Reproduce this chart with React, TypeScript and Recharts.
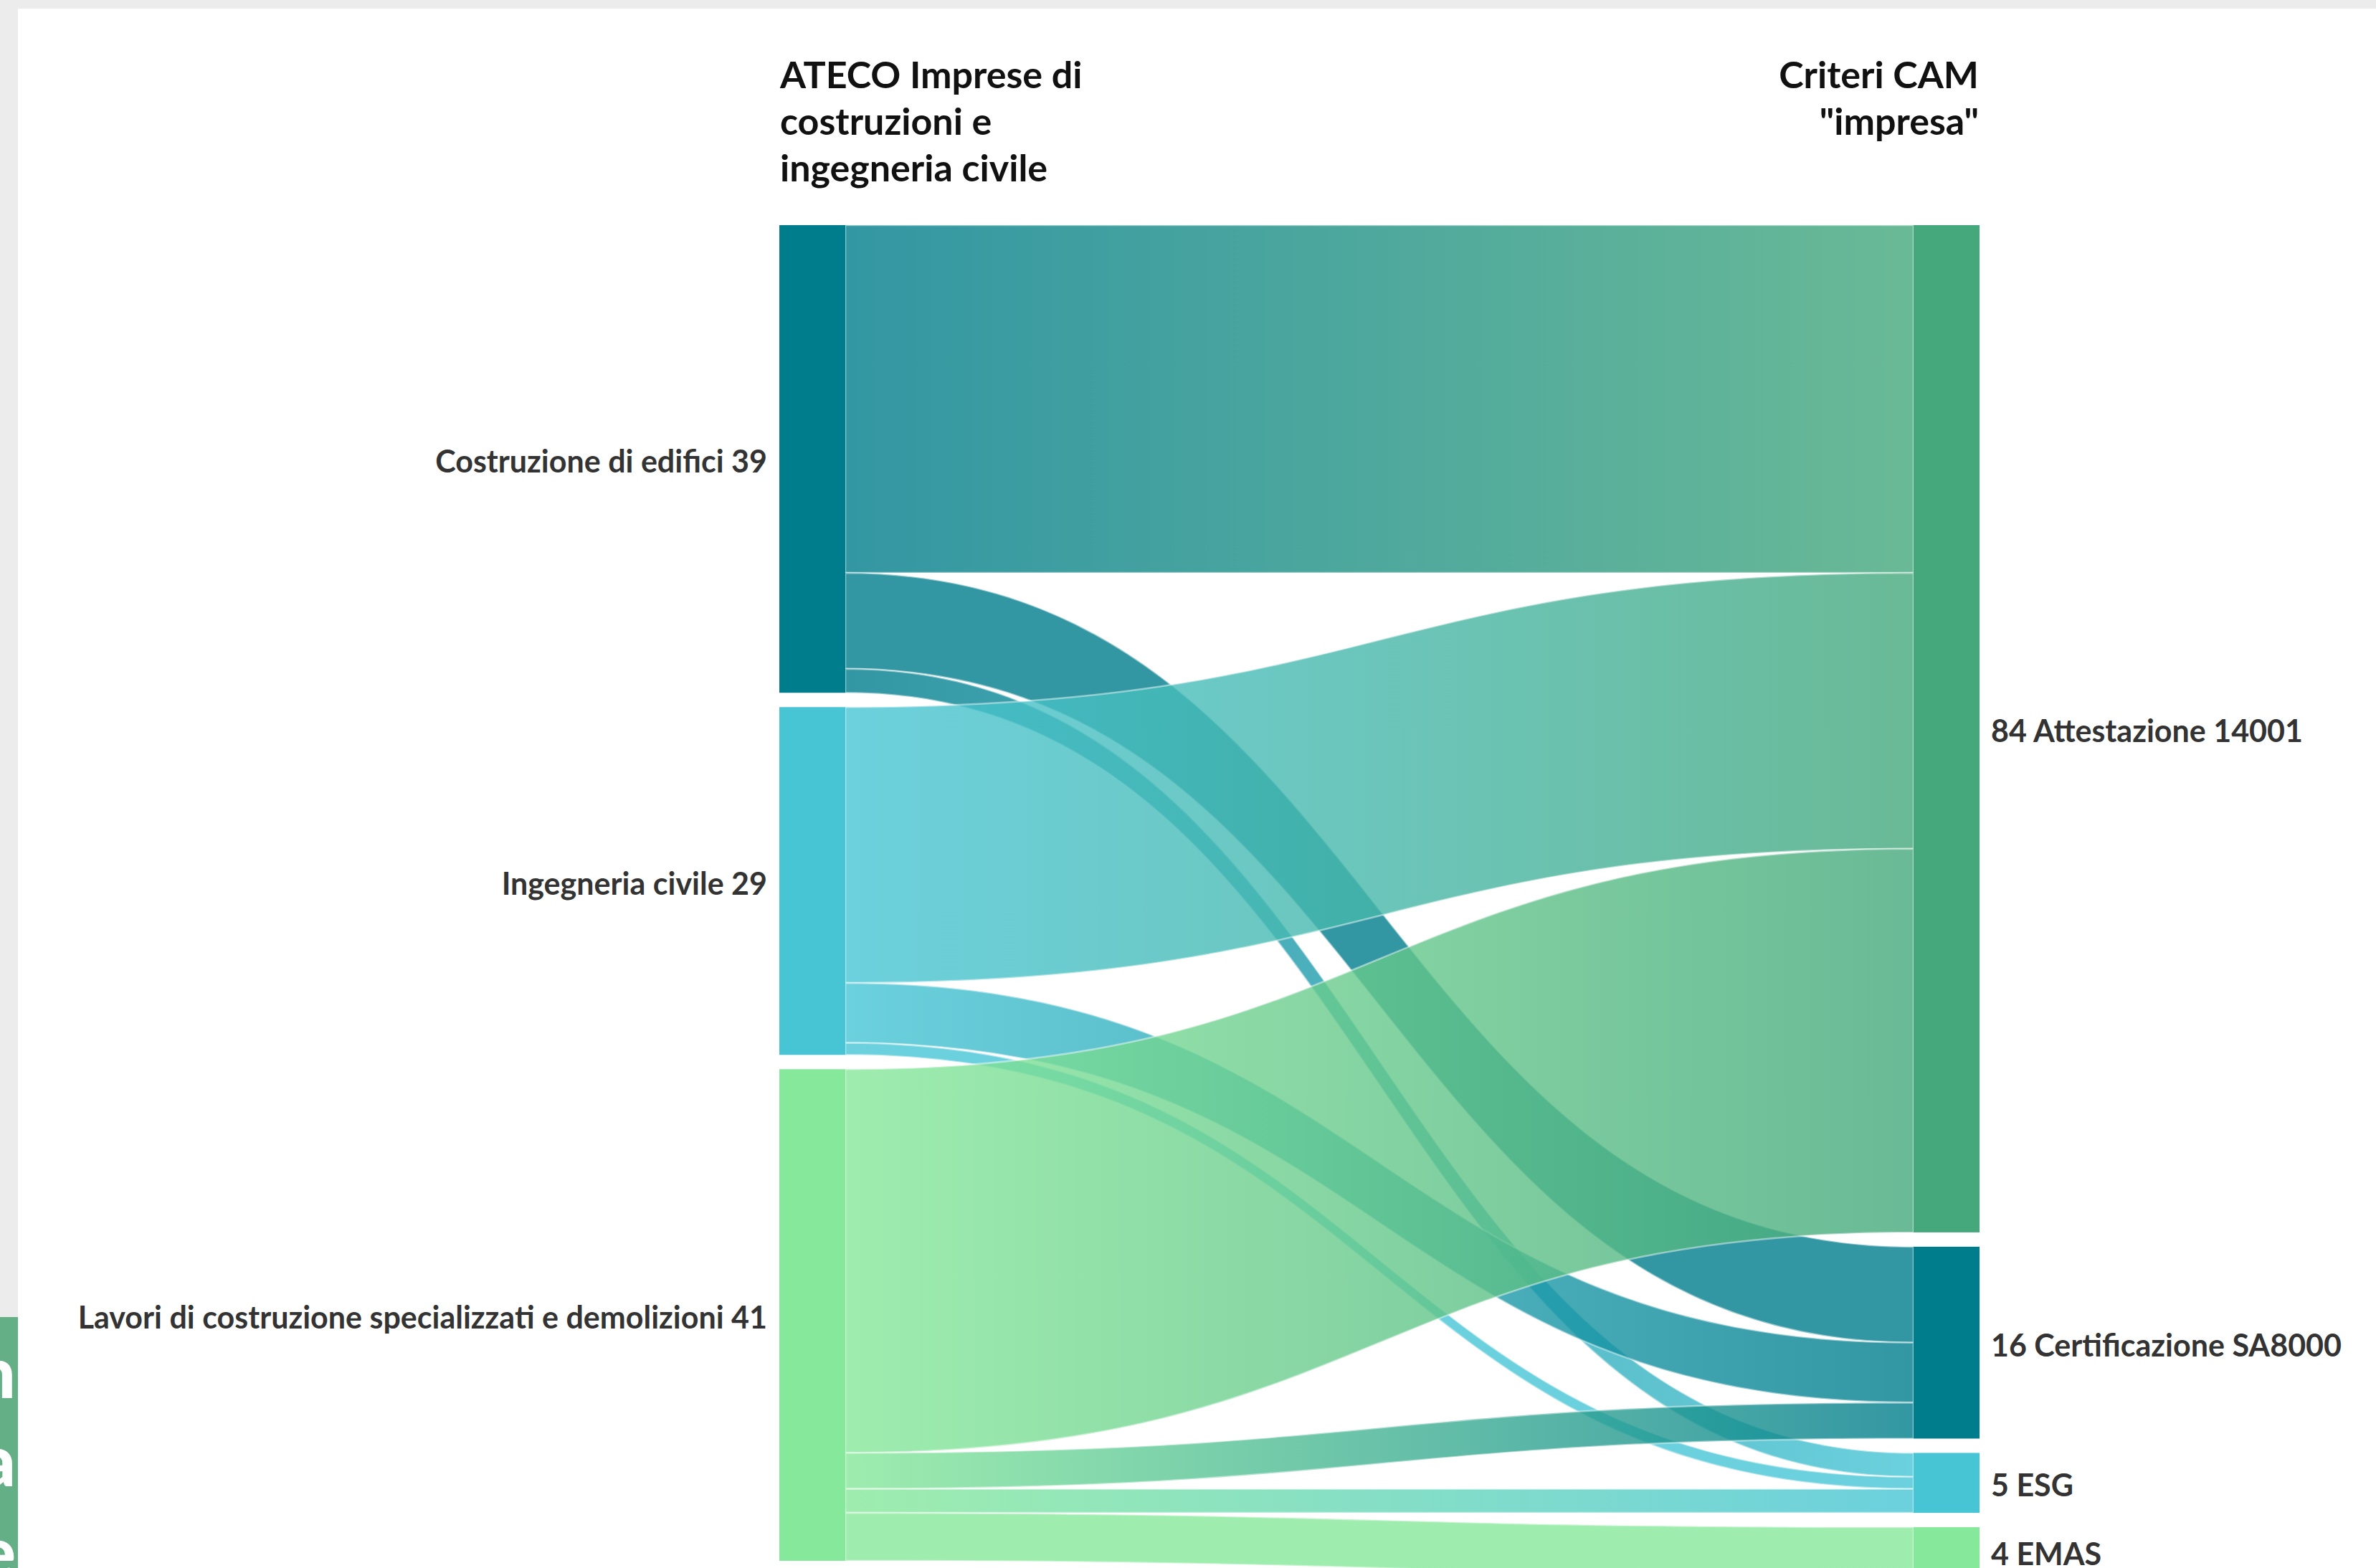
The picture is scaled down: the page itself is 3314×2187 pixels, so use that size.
import { Sankey } from "recharts";

// Columns: ATECO sectors on the left, CAM "impresa" criteria on the right.
const NODE_NAMES = [
  "Costruzione di edifici",
  "Ingegneria civile",
  "Lavori di costruzione specializzati e demolizioni",
  "Attestazione 14001",
  "Certificazione SA8000",
  "ESG",
  "EMAS",
];
const NODE_COLORS = ["#007d8c", "#47c5d5", "#86e89a", "#44a87c", "#007d8c", "#47c5d5", "#86e89a"];

const LINK_SOURCES = [0, 0, 0, 1, 1, 1, 2, 2, 2, 2];
const LINK_TARGETS = [3, 4, 5, 3, 4, 5, 3, 4, 5, 6];
const LINK_VALUES = [29, 8, 2, 23, 5, 1, 32, 3, 2, 4];

const LEFT_TITLE = ["ATECO Imprese di", "costruzioni e", "ingegneria civile"];
const RIGHT_TITLE = ["Criteri CAM", "\"impresa\""];

const FONT = "Lato, 'Open Sans', sans-serif";

const sankeyData = {
  nodes: NODE_NAMES.map((name, i) => ({ name, color: NODE_COLORS[i] })),
  links: LINK_VALUES.map((value, i) => ({ source: LINK_SOURCES[i], target: LINK_TARGETS[i], value })),
};

const colorOf = (n: any) => (typeof n === "number" ? NODE_COLORS[n] : n?.color ?? "#999");

function FlowNode({ x, y, width, height, index, payload }: any) {
  const left = payload.depth === 0;
  const label = left ? `${payload.name} ${payload.value}` : `${payload.value} ${payload.name}`;
  return (
    <g>
      <rect x={x} y={y} width={width} height={height} fill={payload.color ?? NODE_COLORS[index]} />
      <text
        x={left ? x - 17 : x + width + 16}
        y={y + height / 2 + 19}
        textAnchor={left ? "end" : "start"}
        fontFamily={FONT}
        fontWeight={700}
        fontSize={43}
        fill="#333"
      >
        {label}
      </text>
    </g>
  );
}

// Filled band with a source→target colour gradient and a light edge.
function FlowLink(props: any) {
  const { sourceX, targetX, sourceY, targetY, sourceControlX, targetControlX, linkWidth, index, payload } = props;
  const h = linkWidth / 2;
  const d =
    `M${sourceX},${sourceY - h} C${sourceControlX},${sourceY - h} ${targetControlX},${targetY - h} ${targetX},${targetY - h} ` +
    `L${targetX},${targetY + h} C${targetControlX},${targetY + h} ${sourceControlX},${sourceY + h} ${sourceX},${sourceY + h} Z`;
  const id = `flow-grad-${index}`;
  return (
    <g>
      <defs>
        <linearGradient id={id} gradientUnits="userSpaceOnUse" x1={sourceX} y1={0} x2={targetX} y2={0}>
          <stop offset="0%" stopColor={colorOf(payload.source)} />
          <stop offset="100%" stopColor={colorOf(payload.target)} />
        </linearGradient>
      </defs>
      <path d={d} fill={`url(#${id})`} fillOpacity={0.8} stroke="#ffffff" strokeOpacity={0.45} strokeWidth={2.5} />
    </g>
  );
}

const sideGlyph = (top: number) => ({
  position: "absolute" as const, right: 3, top, height: 110, lineHeight: "110px", overflow: "hidden",
});

export default function App() {
  return (
    <div style={{ position: "relative", width: 3314, height: 2187, overflow: "hidden", background: "#ececec" }}>
      <style>{"html,body{margin:0;padding:0;overflow:hidden}"}</style>
      <div style={{ position: "absolute", left: 25, top: 12, right: 0, bottom: 0, background: "#fff" }} />

      {/* edge of the neighbouring green panel */}
      <div
        style={{
          position: "absolute", left: 0, top: 1837, width: 25, height: 350, overflow: "hidden",
          background: "#64af86", color: "#fff", fontFamily: FONT, fontWeight: 900, fontSize: 100,
        }}
      >
        <span style={sideGlyph(19)}>n</span>
        <span style={sideGlyph(142)}>a</span>
        <span style={sideGlyph(269)}>e</span>
      </div>

      <div style={{ position: "absolute", left: 0, top: 0 }}>
        <Sankey
          width={3314}
          height={2200}
          data={sankeyData}
          nodeWidth={92}
          nodePadding={20}
          iterations={0}
          linkCurvature={0.5}
          margin={{ top: 314, right: 553, bottom: 3, left: 1087 }}
          node={(p: any) => <FlowNode {...p} />}
          link={(p: any) => <FlowLink {...p} />}
        />
      </div>

      <div
        style={{
          position: "absolute", left: 1088, top: 71, fontFamily: FONT, fontWeight: 700,
          fontSize: 52, lineHeight: "65px", color: "#111", whiteSpace: "nowrap",
        }}
      >
        {LEFT_TITLE.map((t) => <div key={t}>{t}</div>)}
      </div>
      <div
        style={{
          position: "absolute", right: 3314 - 2760, top: 71, fontFamily: FONT, fontWeight: 700,
          fontSize: 52, lineHeight: "65px", color: "#111", whiteSpace: "nowrap", textAlign: "right",
        }}
      >
        {RIGHT_TITLE.map((t) => <div key={t}>{t}</div>)}
      </div>
    </div>
  );
}
